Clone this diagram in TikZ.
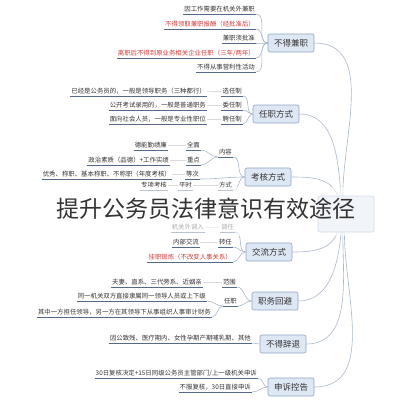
\documentclass[tikz,border=0pt]{standalone}
\usepackage{fontspec}
\newfontfamily\cjk{Noto Sans CJK SC}
\definecolor{topicfill}{HTML}{DDE8F4}
\definecolor{topicline}{HTML}{8EA6C4}
\definecolor{branchcol}{HTML}{A9B8CC}
\definecolor{ulinecol}{HTML}{55698A}
\definecolor{leaftext}{HTML}{333333}
\definecolor{redtext}{HTML}{D23A3A}
\tikzset{
  topic/.style={draw=topicline, fill=topicfill, rounded corners=2pt, line width=0.6pt,
    font=\cjk\fontsize{8.5}{10}\selectfont, text=leaftext, minimum width=46pt, minimum height=18pt, inner sep=2pt},
  roottopic/.style={topic, minimum width=56pt, minimum height=36pt},
  uline/.style={draw=ulinecol, line width=0.6pt},
  leaf/.style={font=\cjk\fontsize{6.4}{7}\selectfont, text=leaftext, inner xsep=1pt, inner ysep=1.5pt, anchor=south east,
    append after command={(\tikzlastnode.south west) edge[uline] (\tikzlastnode.south east)}},
  redleaf/.style={leaf, text=redtext},
  branch/.style={draw=branchcol, line width=0.6pt},
  dotlink/.style={draw=gray!45, line width=0.5pt},
  headline/.style={font=\cjk\fontsize{23}{25}\selectfont, text=black!80},
}
\begin{document}
\begin{tikzpicture}[x=1pt,y=-1pt]
      \useasboundingbox (0,0) rectangle (411,400);
      \node[roottopic] (root) at (346,214) {};
      % main topics
      \node[topic] (jianzhi) at (291,43) {不得兼职};
      \node[topic] (renzhi) at (276,114) {任职方式};
      \node[topic] (kaohe) at (268,177) {考核方式};
      \node[topic] (jiaoliu) at (269,252) {交流方式};
      \node[topic] (huibi) at (275,301) {职务回避};
      \node[topic] (citui) at (283,344) {不得辞退};
      \node[topic] (shensu) at (291,387) {申诉控告};
      \begin{scope}[branch]
        \draw (root.100) to[out=90,in=0] (jianzhi.east);
        \draw (root.105) to[out=95,in=0] (renzhi.east);
        \draw (root.115) to[out=110,in=0] (kaohe.east);
        \draw (root.245) to[out=250,in=0] (jiaoliu.east);
        \draw (root.255) to[out=265,in=0] (huibi.east);
        \draw (root.260) to[out=270,in=0] (citui.east);
        \draw (root.265) to[out=270,in=0] (shensu.east);
      \end{scope}
      % 不得兼职
      \node[leaf] (j1) at (256,14) {因工作需要在机关外兼职};
      \node[redleaf] (j2) at (256,29) {不得领取兼职报酬（经批准后）};
      \node[leaf] (j3) at (256,43) {兼职须批准};
      \node[redleaf] (j4) at (256,58) {离职后不得到原业务相关企业任职（三年/两年）};
      \node[leaf] (j5) at (256,72) {不得从事营利性活动};
      \foreach \c in {j1,j2,j3,j4,j5}
        \draw[branch] (jianzhi.west) to[out=180,in=0] (\c.south east);
      % 任职方式
      \node[leaf] (r1) at (243,96) {选任制};
      \node[leaf] (r1d) at (207,96) {已经是公务员的，一般是领导职务（三种都行）};
      \node[leaf] (r2) at (243,110) {委任制};
      \node[leaf] (r2d) at (207,110) {公开考试录用的，一般是普通职务};
      \node[leaf] (r3) at (243,124) {聘任制};
      \node[leaf] (r3d) at (207,124) {面向社会人员，一般是专业性职位};
      \foreach \c in {r1,r2,r3} {
        \draw[branch] (renzhi.west) to[out=180,in=0] (\c.south east);
        \draw[dotlink] (\c d.east) -- (\c.west);
      }
      % 考核方式
      \node[leaf] (k1) at (233,157) {内容};
      \node[leaf] (k11) at (201,150) {全面};
      \node[leaf] (k11d) at (168,150) {德能勤绩廉};
      \node[leaf] (k12) at (201,165) {重点};
      \node[leaf] (k12d) at (170,165) {政治素质（品德）+工作实绩};
      \node[leaf] (k2) at (200,179) {等次};
      \node[leaf] (k2d) at (172,179) {优秀、称职、基本称职、不称职（年度考核）};
      \node[leaf] (k3) at (233,190) {方式};
      \node[leaf] (k31) at (193,190) {平时};
      \node[leaf] (k31d) at (168,190) {专项考核};
      \foreach \c in {k1,k2,k3}
        \draw[branch] (kaohe.west) to[out=180,in=0] (\c.south east);
      \foreach \c in {k11,k12}
        \draw[branch] (k1.south west) to[out=180,in=0] (\c.south east);
      \foreach \c in {k11,k12,k2,k31}
        \draw[dotlink] (\c d.east) -- (\c.west);
      \draw[dotlink] (k31.east) -- (k3.west);
      % 交流方式
      \node[leaf] (l1) at (235,232) {调任};
      \node[leaf] (l1d) at (205,232) {机关外调入};
      \node[leaf] (l2) at (233,247) {转任};
      \node[leaf] (l2d) at (200,247) {内部交流};
      \node[redleaf] (l3) at (233,262) {挂职锻炼（不改变人事关系）};
      \foreach \c in {l1,l2,l3}
        \draw[branch] (jiaoliu.west) to[out=180,in=0] (\c.south east);
      \foreach \c in {l1,l2}
        \draw[dotlink] (\c d.east) -- (\c.west);
      % 职务回避
      \node[leaf] (h1) at (237,287) {范围};
      \node[leaf] (h1d) at (203,287) {夫妻、直系、三代旁系、近姻亲};
      \node[leaf] (h2) at (238,306) {任职};
      \node[leaf] (h21) at (207,301) {同一机关双方直接隶属同一领导人员或上下级};
      \node[leaf] (h22) at (212,317) {其中一方担任领导，另一方在其领导下从事组织人事审计财务};
      \foreach \c in {h1,h2}
        \draw[branch] (huibi.west) to[out=180,in=0] (\c.south east);
      \foreach \c in {h21,h22}
        \draw[branch] (h2.south west) to[out=180,in=0] (\c.south east);
      \draw[dotlink] (h1d.east) -- (h1.west);
      % 不得辞退
      \node[leaf] (t1) at (252,343) {因公致残、医疗期内、女性孕期产期哺乳期、其他};
      \draw[branch] (citui.west) to[out=180,in=0] (t1.south east);
      % 申诉控告
      \node[leaf] (s1) at (258,378) {30日复核决定+15日同级公务员主管部门/上一级机关申诉};
      \node[leaf] (s2) at (252,392) {不服复核，30日直接申诉};
      \foreach \c in {s1,s2}
        \draw[branch] (shensu.west) to[out=180,in=0] (\c.south east);
      % title band
      \fill[white, opacity=0.6] (0,187) rectangle (411,236);
      \node[headline] (heading) at (206,209) {提升公务员法律意识有效途径};
    \end{tikzpicture}
\end{document}
